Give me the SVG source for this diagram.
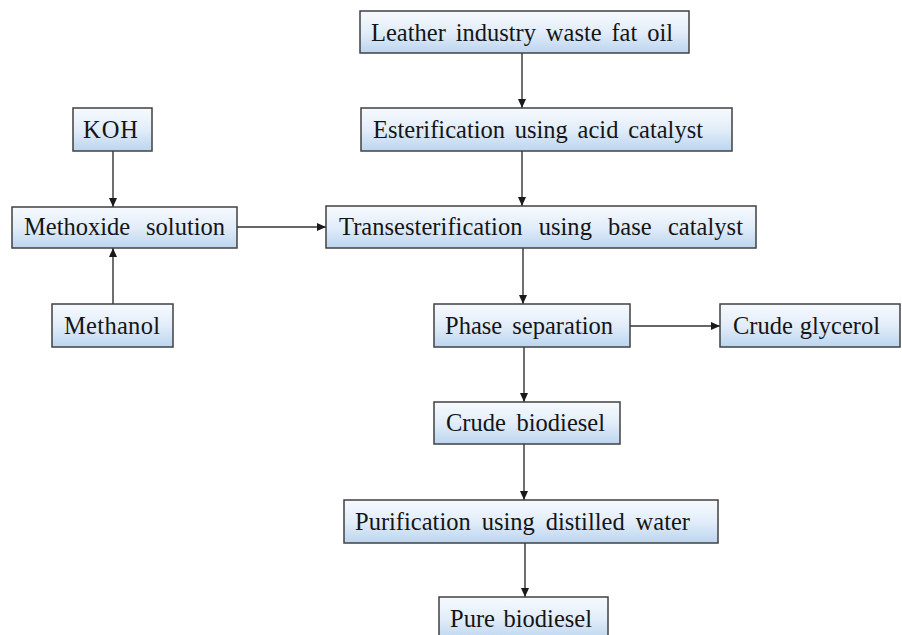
<svg xmlns="http://www.w3.org/2000/svg" width="902" height="635" viewBox="0 0 902 635">
<defs>
<linearGradient id="g" x1="0" y1="0" x2="0" y2="1">
<stop offset="0" stop-color="#f7fafe"/>
<stop offset="0.5" stop-color="#e2edf9"/>
<stop offset="1" stop-color="#bcd5ef"/>
</linearGradient>
<marker id="ah" markerWidth="9" markerHeight="8" refX="9" refY="4" orient="auto" markerUnits="userSpaceOnUse">
<path d="M0,0 L9,4 L0,8 z" fill="#1a1a1a"/>
</marker>
</defs>
<style>
.box{fill:url(#g);stroke:#404040;stroke-width:1.5}
.t{font-family:"Liberation Serif","Times New Roman",serif;font-size:24.5px;fill:#151515}
.c{stroke:#333;stroke-width:1.4;fill:none;marker-end:url(#ah)}
</style>
<rect width="902" height="635" fill="#fff"/>
<g id="connectors">
<line class="c" x1="522" y1="53" x2="522" y2="108"/>
<line class="c" x1="522" y1="151" x2="522" y2="206"/>
<line class="c" x1="113" y1="151" x2="113" y2="207"/>
<line class="c" x1="113" y1="304" x2="113" y2="248"/>
<line class="c" x1="237" y1="227" x2="326" y2="227"/>
<line class="c" x1="523" y1="248" x2="523" y2="304"/>
<line class="c" x1="630" y1="326" x2="720" y2="326"/>
<line class="c" x1="524" y1="347" x2="524" y2="402"/>
<line class="c" x1="524" y1="444" x2="524" y2="500"/>
<line class="c" x1="525" y1="543" x2="525" y2="597"/>
</g>
<g id="leather">
<rect class="box" x="360" y="11" width="329" height="42"/>
<text class="t" x="371" y="41" word-spacing="3.7" textLength="302" lengthAdjust="spacing">Leather industry waste fat oil</text>
</g>
<g id="esterification">
<rect class="box" x="361" y="108" width="371" height="43"/>
<text class="t" x="373" y="138" word-spacing="3.6" textLength="330" lengthAdjust="spacing">Esterification using acid catalyst</text>
</g>
<g id="transesterification">
<rect class="box" x="326" y="206" width="430" height="42"/>
<text class="t" x="339" y="235" word-spacing="10" textLength="404" lengthAdjust="spacing">Transesterification using base catalyst</text>
</g>
<g id="koh">
<rect class="box" x="73" y="108" width="79" height="43"/>
<text class="t" x="83" y="138" textLength="55" lengthAdjust="spacing">KOH</text>
</g>
<g id="methoxide">
<rect class="box" x="12" y="207" width="225" height="41"/>
<text class="t" x="24" y="235" word-spacing="9.8" textLength="201" lengthAdjust="spacing">Methoxide solution</text>
</g>
<g id="methanol">
<rect class="box" x="52" y="304" width="121" height="43"/>
<text class="t" x="64" y="334" textLength="96" lengthAdjust="spacing">Methanol</text>
</g>
<g id="phase">
<rect class="box" x="434" y="304" width="196" height="43"/>
<text class="t" x="445" y="334" word-spacing="4" textLength="168" lengthAdjust="spacing">Phase separation</text>
</g>
<g id="glycerol">
<rect class="box" x="720" y="304" width="180" height="43"/>
<text class="t" x="733" y="334" word-spacing="0.7" textLength="147" lengthAdjust="spacing">Crude glycerol</text>
</g>
<g id="crude">
<rect class="box" x="434" y="402" width="186" height="42"/>
<text class="t" x="446" y="431" word-spacing="4.5" textLength="159" lengthAdjust="spacing">Crude biodiesel</text>
</g>
<g id="purification">
<rect class="box" x="344" y="500" width="374" height="43"/>
<text class="t" x="355" y="530" word-spacing="4.8" textLength="335" lengthAdjust="spacing">Purification using distilled water</text>
</g>
<g id="pure">
<rect class="box" x="439" y="597" width="169" height="43"/>
<text class="t" x="450" y="627" word-spacing="2.5" textLength="142" lengthAdjust="spacing">Pure biodiesel</text>
</g>
</svg>
